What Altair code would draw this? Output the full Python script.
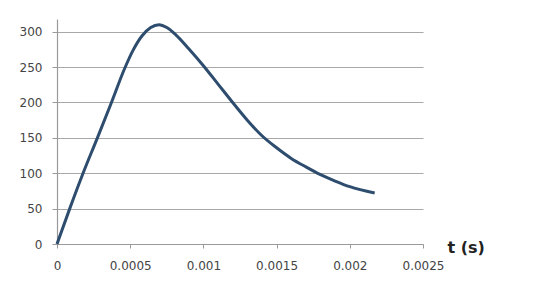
import altair as alt
import pandas as pd

t_values = [0, 0.000087, 0.000178, 0.000276, 0.000372, 0.000462, 0.00052, 0.00058,
            0.00064, 0.000697, 0.00075, 0.00081, 0.0009, 0.001, 0.0011, 0.0012,
            0.0013, 0.0014, 0.0015, 0.0016, 0.0017, 0.0018, 0.0019, 0.002, 0.00217]
y_values = [0, 50, 100, 150, 200, 248, 274, 294,
            306, 310, 306, 296, 276, 252, 226, 200,
            175, 153, 136, 121, 109, 98, 89, 81, 72]
x_ticks = [0, 0.0005, 0.001, 0.0015, 0.002, 0.0025]
y_ticks = [0, 50, 100, 150, 200, 250, 300]

df = pd.DataFrame({"t": t_values, "v": y_values})

line = alt.Chart(df).mark_line(
    color="#2e4d6e", strokeWidth=3, interpolate="monotone"
).encode(
    x=alt.X("t:Q",
            scale=alt.Scale(domain=[0, 0.0025], nice=False, zero=False),
            axis=alt.Axis(values=x_ticks, grid=False, labelFlush=False,
                          labelExpr="datum.value == 0 ? '0' : format(datum.value, '~g')",
                          title="t (s)", titleFontSize=16, titleFontWeight="bold",
                          titleColor="#222222", titleFont="DejaVu Sans",
                          titleAlign="left", titleBaseline="middle",
                          titleX=390, titleY=3, titleAngle=0)),
    y=alt.Y("v:Q",
            scale=alt.Scale(domain=[0, 318], nice=False, zero=True),
            axis=alt.Axis(values=y_ticks, grid=True, title=None, labelFlush=False,
                          labelPadding=10, tickSize=5))
)

chart = line.properties(
    width=366, height=225,
    autosize=alt.AutoSizeParams(type="none"),
    padding={"left": 57, "top": 19, "right": 130, "bottom": 55},
    background="white"
).configure_view(stroke=None).configure_axis(
    labelFont="DejaVu Sans", labelFontSize=12, labelColor="#444444",
    domainColor="#9a9a9a", tickColor="#9a9a9a", gridColor="#a8a8a8",
    gridWidth=1.2, domainWidth=1.2
).configure_axisX(
    tickSize=4, labelPadding=12
)

chart.save("out.html", embed_options={"renderer": "svg", "actions": False})
